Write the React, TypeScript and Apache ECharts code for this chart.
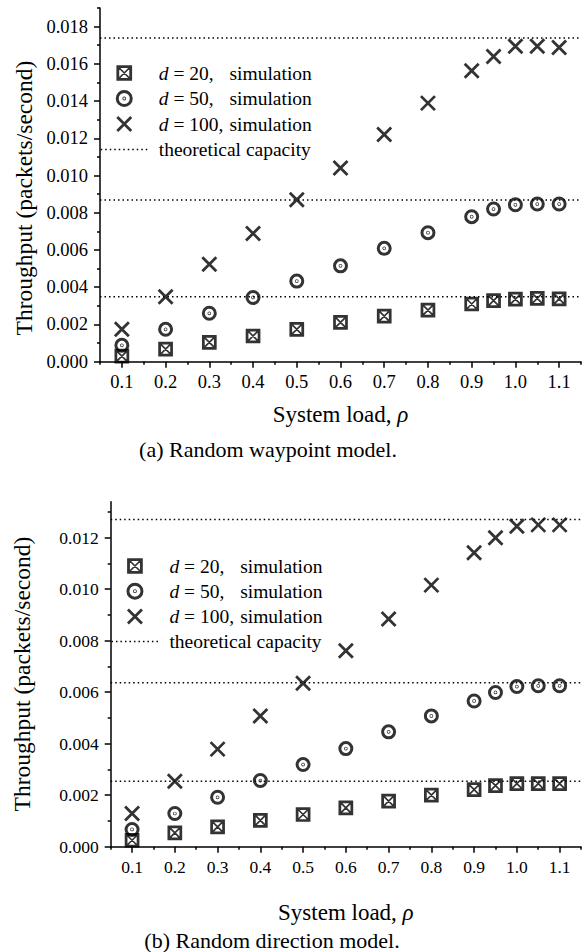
import React, { useEffect, useRef } from 'react';
import * as echarts from 'echarts';

// ---- data ----
const loads = [0.1, 0.2, 0.3, 0.4, 0.5, 0.6, 0.7, 0.8, 0.9, 0.95, 1.0, 1.05, 1.1];

const waypointD20 = [0.0003, 0.00068, 0.00104, 0.00138, 0.00174, 0.00211, 0.00245, 0.00277, 0.0031, 0.00328, 0.00336, 0.0034, 0.00338];
const waypointD50 = [0.00088, 0.00174, 0.0026, 0.00345, 0.00433, 0.00515, 0.00609, 0.00693, 0.00779, 0.0082, 0.00843, 0.00847, 0.00847];
const waypointD100 = [0.00174, 0.00349, 0.00524, 0.00689, 0.0087, 0.0104, 0.0122, 0.01389, 0.01563, 0.0164, 0.01694, 0.01694, 0.01688];
const waypointCapacity = [0.00349, 0.00869, 0.01739];

const directionD20 = [0.00025, 0.00054, 0.00077, 0.00102, 0.00125, 0.00151, 0.00177, 0.002, 0.00222, 0.00237, 0.00245, 0.00245, 0.00245];
const directionD50 = [0.00067, 0.00129, 0.00192, 0.00257, 0.00319, 0.00381, 0.00446, 0.00508, 0.00566, 0.00599, 0.00622, 0.00625, 0.00625];
const directionD100 = [0.00129, 0.00254, 0.00379, 0.00508, 0.00635, 0.00761, 0.00884, 0.01016, 0.01142, 0.012, 0.01245, 0.0125, 0.0125];
const directionCapacity = [0.00254, 0.00637, 0.01271];

const xRange = [0.05, 1.15];
const xTicks = [0.1, 0.2, 0.3, 0.4, 0.5, 0.6, 0.7, 0.8, 0.9, 1.0, 1.1];
const xMinorTicks = [0.05, 0.15, 0.25, 0.35, 0.45, 0.55, 0.65, 0.75, 0.85, 0.95, 1.05, 1.15];
const yTicksTop = [0, 0.002, 0.004, 0.006, 0.008, 0.01, 0.012, 0.014, 0.016, 0.018];
const yMinorTicksTop = [0.001, 0.003, 0.005, 0.007, 0.009, 0.011, 0.013, 0.015, 0.017, 0.019];
const yTicksBottom = [0, 0.002, 0.004, 0.006, 0.008, 0.01, 0.012];
const yMinorTicksBottom = [0.001, 0.003, 0.005, 0.007, 0.009, 0.011, 0.013];

const seriesNames = ['d = 20, simulation', 'd = 50, simulation', 'd = 100, simulation', 'theoretical capacity'];
const legendLabels: Record<string, string> = {
  'd = 20, simulation': '{d|d}{a| = 20,}{s|simulation}',
  'd = 50, simulation': '{d|d}{a| = 50,}{s|simulation}',
  'd = 100, simulation': '{d|d}{a| = 100,}{s|simulation}',
  'theoretical capacity': '{c|theoretical capacity}',
};

const FONT = 'Liberation Serif';
const SYM_BOX = 'path://M0,0L10,0L10,10L0,10Z M0.8,0.8L9.2,0.8L9.2,9.2L0.8,9.2Z M0,0L10,10 M10,0L0,10';
const SYM_DOT = 'path://M10,5A5,5,0,1,1,0,5A5,5,0,1,1,10,5Z M5.3,5A0.3,0.3,0,1,1,4.7,5A0.3,0.3,0,1,1,5.3,5Z';
const SYM_X = 'path://M0,0L10,10M10,0L0,10';
const BLACK = '#000';
const CLEAR = 'rgba(0,0,0,0)';
const DOTS = [1.5, 3];

const boxStyle = { color: CLEAR, borderColor: BLACK, borderWidth: 1.7 };
const dotStyle = { color: CLEAR, borderColor: BLACK, borderWidth: 3 };
const xStyle = { color: CLEAR, borderColor: BLACK, borderWidth: 2.8 };

function buildAxes(gridIndex: number, yMax: number, yTicks: number[], yMinor: number[], tickFont: number, nameGap: number) {
  const lineStyle = { color: BLACK, width: 1.5 };
  const xMajor = {
    type: 'value', gridIndex, min: xRange[0], max: xRange[1], position: 'bottom',
    axisLine: { show: true, onZero: false, lineStyle },
    axisTick: { show: true, length: 6, customValues: xTicks, lineStyle },
    axisLabel: { show: true, customValues: xTicks, formatter: (v: number) => v.toFixed(1), margin: 11, color: BLACK, fontFamily: FONT, fontSize: tickFont },
    splitLine: { show: false },
    name: 'System load, {i|ρ}', nameLocation: 'middle', nameGap,
    nameTextStyle: { color: BLACK, fontFamily: FONT, fontSize: 23, rich: { i: { fontStyle: 'italic', fontFamily: FONT, fontSize: 23, color: BLACK } } },
  };
  const xMinor = {
    type: 'value', gridIndex, min: xRange[0], max: xRange[1], position: 'bottom',
    axisLine: { show: false, onZero: false },
    axisTick: { show: true, length: 3, customValues: xMinorTicks, lineStyle },
    axisLabel: { show: false }, splitLine: { show: false },
  };
  const yMajor = {
    type: 'value', gridIndex, min: 0, max: yMax, position: 'left',
    axisLine: { show: true, onZero: false, lineStyle },
    axisTick: { show: true, length: 6, customValues: yTicks, lineStyle },
    axisLabel: { show: true, customValues: yTicks, formatter: (v: number) => v.toFixed(3), margin: 12, color: BLACK, fontFamily: FONT, fontSize: tickFont },
    splitLine: { show: false },
  };
  const yMinorAxis = {
    type: 'value', gridIndex, min: 0, max: yMax, position: 'left',
    axisLine: { show: false, onZero: false },
    axisTick: { show: true, length: 3, customValues: yMinor, lineStyle },
    axisLabel: { show: false }, splitLine: { show: false },
  };
  return { x: [xMajor, xMinor], y: [yMajor, yMinorAxis] };
}

function buildSeries(axisIndex: number, d20: number[], d50: number[], d100: number[], cap: number[]) {
  const toPts = (arr: number[]) => loads.map((x, i) => [x, arr[i]]);
  const capacityLines = cap.map((v) => ({
    type: 'line', name: seriesNames[3], xAxisIndex: axisIndex, yAxisIndex: axisIndex,
    data: [[xRange[0], v], [xRange[1], v]], symbol: 'none', showSymbol: false, silent: true,
    lineStyle: { color: BLACK, width: 1.5, type: DOTS },
    itemStyle: { color: BLACK },
    z: 2,
  }));
  return [
    {
      type: 'scatter', name: seriesNames[0], xAxisIndex: axisIndex, yAxisIndex: axisIndex,
      data: toPts(d20), symbol: SYM_BOX, symbolSize: 13, symbolKeepAspect: true,
      itemStyle: boxStyle, z: 3,
    },
    {
      type: 'scatter', name: seriesNames[1], xAxisIndex: axisIndex, yAxisIndex: axisIndex,
      data: toPts(d50), symbol: SYM_DOT, symbolSize: 12, symbolKeepAspect: true,
      itemStyle: dotStyle, z: 3,
    },
    {
      type: 'scatter', name: seriesNames[2], xAxisIndex: axisIndex, yAxisIndex: axisIndex,
      data: toPts(d100), symbol: SYM_X, symbolSize: 14, symbolKeepAspect: true,
      itemStyle: xStyle, z: 3,
    },
    ...capacityLines,
  ];
}

function buildLegend(left: number, top: number, gap: number) {
  const seg = { fontFamily: FONT, fontSize: 19.5, color: BLACK };
  return {
    orient: 'vertical', left, top, padding: 0, itemGap: gap,
    itemWidth: 47, itemHeight: 14, selectedMode: false, symbolKeepAspect: true,
    data: [
      { name: seriesNames[0], icon: SYM_BOX, itemStyle: boxStyle },
      { name: seriesNames[1], icon: SYM_DOT, itemStyle: dotStyle },
      { name: seriesNames[2], icon: SYM_X, itemStyle: xStyle },
      { name: seriesNames[3], itemStyle: { color: CLEAR, borderColor: CLEAR, borderWidth: 0 }, lineStyle: { color: BLACK, width: 1.5, type: DOTS } },
    ],
    formatter: (name: string) => legendLabels[name] || name,
    textStyle: {
      ...seg,
      rich: {
        d: { ...seg, fontStyle: 'italic', padding: [0, 0, 0, 6] },
        a: { ...seg, width: 61 },
        s: { ...seg },
        c: { ...seg, padding: [0, 0, 0, 6] },
      },
    },
  };
}

export default function App() {
  const ref = useRef<HTMLDivElement>(null);
  useEffect(() => {
    if (!ref.current) return;
    const chart = echarts.init(ref.current, null, { renderer: 'svg' });
    const topAxes = buildAxes(0, 0.019, yTicksTop, yMinorTicksTop, 18.5, 41);
    const botAxes = buildAxes(1, 0.0134, yTicksBottom, yMinorTicksBottom, 17.5, 54);
    const option: any = {
      animation: false,
      backgroundColor: '#fff',
      grid: [
        { left: 100, top: 8, width: 481, height: 353.7, containLabel: false, outerBoundsMode: 'none' },
        { left: 110.7, top: 501.7, width: 470.3, height: 345, containLabel: false, outerBoundsMode: 'none' },
      ],
      xAxis: [...topAxes.x, ...botAxes.x],
      yAxis: [...topAxes.y, ...botAxes.y],
      legend: [buildLegend(100, 63, 5.5), buildLegend(110.7, 556, 5.2)],
      series: [
        ...buildSeries(0, waypointD20, waypointD50, waypointD100, waypointCapacity),
        ...buildSeries(2, directionD20, directionD50, directionD100, directionCapacity),
      ],
      graphic: [
        { type: 'text', x: 24, y: 198, rotation: Math.PI / 2, style: { text: 'Throughput (packets/second)', font: `23.5px ${FONT}`, fill: BLACK, align: 'center', verticalAlign: 'middle' } },
        { type: 'text', x: 22, y: 674, rotation: Math.PI / 2, style: { text: 'Throughput (packets/second)', font: `23.5px ${FONT}`, fill: BLACK, align: 'center', verticalAlign: 'middle' } },
        { type: 'text', x: 268, y: 449, style: { text: '(a) Random waypoint model.', font: `22px ${FONT}`, fill: BLACK, align: 'center', verticalAlign: 'middle' } },
        { type: 'text', x: 272, y: 940, style: { text: '(b) Random direction model.', font: `22px ${FONT}`, fill: BLACK, align: 'center', verticalAlign: 'middle' } },
      ],
    };
    chart.setOption(option);
    return () => chart.dispose();
  }, []);
  return <div ref={ref} style={{ position: 'absolute', left: 0, top: 0, width: 588, height: 952, background: '#fff' }} />;
}
